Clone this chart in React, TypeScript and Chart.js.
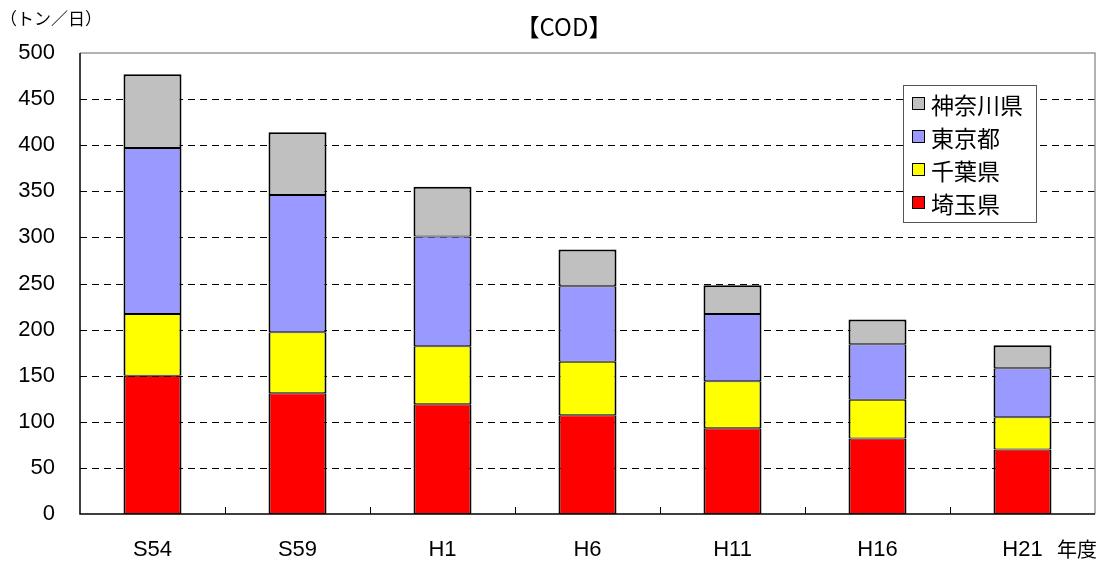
import React, { useEffect, useRef } from "react";
import { Chart, registerables } from "chart.js";

Chart.register(...registerables);

const categories = ["S54", "S59", "H1", "H6", "H11", "H16", "H21"];
const saitama = [150, 131, 119, 107, 93, 82, 70];
const chiba = [67, 66, 63, 58, 51, 42, 35];
const tokyo = [180, 149, 119, 82, 73, 60, 53];
const kanagawa = [80, 68, 54, 40, 31, 27, 25];
const yTicks = [0, 50, 100, 150, 200, 250, 300, 350, 400, 450, 500];

const FONT = "'Liberation Sans', 'Noto Sans CJK JP', sans-serif";
const JFONT = "'Noto Sans CJK JP', 'Liberation Sans', sans-serif";

const overlay = {
  id: "overlay",
  beforeDatasetsDraw(chart: any) {
    const { ctx, chartArea: a, scales } = chart;
    const y = scales.y;
    const x = scales.x;
    ctx.save();
    ctx.strokeStyle = "#000";
    ctx.lineWidth = 1;
    ctx.setLineDash([7, 5]);
    for (const v of yTicks) {
      if (v === 0 || v === 500) continue;
      const py = Math.round(y.getPixelForValue(v)) + 0.5;
      ctx.beginPath();
      ctx.moveTo(a.left, py);
      ctx.lineTo(a.right, py);
      ctx.stroke();
    }
    ctx.setLineDash([]);
    ctx.strokeStyle = "#999";
    ctx.lineWidth = 1.5;
    ctx.beginPath();
    ctx.moveTo(a.left, a.top);
    ctx.lineTo(a.right, a.top);
    ctx.lineTo(a.right, a.bottom);
    ctx.stroke();
    ctx.strokeStyle = "#000";
    ctx.lineWidth = 1;
    for (let i = 1; i < categories.length; i++) {
      const px = Math.round((x.getPixelForValue(i - 1) + x.getPixelForValue(i)) / 2) + 0.5;
      ctx.beginPath();
      ctx.moveTo(px, a.bottom);
      ctx.lineTo(px, a.bottom - 7);
      ctx.stroke();
    }
    ctx.restore();
  },
  afterDraw(chart: any) {
    const { ctx, chartArea: a } = chart;
    ctx.save();
    ctx.strokeStyle = "#000";
    ctx.lineWidth = 1.5;
    ctx.beginPath();
    ctx.moveTo(a.left, a.top);
    ctx.lineTo(a.left, a.bottom);
    ctx.lineTo(a.right, a.bottom);
    ctx.stroke();
    ctx.fillStyle = "#000";
    ctx.textAlign = "center";
    ctx.textBaseline = "middle";
    ctx.font = `24px ${JFONT}`;
    ctx.fillText("【COD】", 564, 27);
    ctx.textAlign = "left";
    ctx.font = `17px ${JFONT}`;
    ctx.fillText("（トン／日）", 0, 19);
    ctx.font = `20px ${JFONT}`;
    ctx.fillText("年度", 1057, 549);
    const lx = 903, ly = 85, lw = 133, lh = 137;
    ctx.fillStyle = "#fff";
    ctx.fillRect(lx, ly, lw, lh);
    ctx.strokeStyle = "#555";
    ctx.lineWidth = 1;
    ctx.strokeRect(lx + 0.5, ly + 0.5, lw, lh);
    const ds = chart.data.datasets;
    const order = [3, 2, 1, 0];
    ctx.font = `23px ${JFONT}`;
    order.forEach((di, i) => {
      const cy = 104 + i * 33;
      ctx.fillStyle = ds[di].backgroundColor;
      ctx.fillRect(912, cy - 7, 13, 13);
      ctx.strokeStyle = "#000";
      ctx.lineWidth = 1;
      ctx.strokeRect(912.5, cy - 6.5, 12, 12);
      ctx.fillStyle = "#000";
      ctx.textAlign = "left";
      ctx.textBaseline = "middle";
      ctx.fillText(ds[di].label, 931, cy + 1);
    });
    ctx.restore();
  },
};

export default function App() {
  const ref = useRef<HTMLCanvasElement>(null);
  useEffect(() => {
    document.body.style.margin = "0";
    const mk = (label: string, data: number[], color: string, top: number) => ({
      label,
      data,
      backgroundColor: color,
      borderColor: "#000",
      borderWidth: { left: 2, right: 2, top, bottom: 1 },
      borderSkipped: false,
      barPercentage: 0.4,
      categoryPercentage: 1,
    });
    const chart = new Chart(ref.current!, {
      type: "bar",
      data: {
        labels: categories,
        datasets: [
          mk("埼玉県", saitama, "#FF0000", 1),
          mk("千葉県", chiba, "#FFFF00", 1),
          mk("東京都", tokyo, "#9999FF", 1),
          mk("神奈川県", kanagawa, "#C0C0C0", 2),
        ],
      },
      options: {
        responsive: false,
        animation: false,
        devicePixelRatio: 1,
        layout: { padding: { top: 53, right: 10, left: 0, bottom: 0 } },
        plugins: { legend: { display: false }, title: { display: false }, tooltip: { enabled: false } },
        scales: {
          x: {
            stacked: true,
            grid: { display: false },
            border: { display: false },
            ticks: { color: "#000", font: { family: FONT, size: 22 }, padding: 15, maxRotation: 0 },
            afterFit: (s: any) => { s.height = 51; },
          },
          y: {
            stacked: true,
            min: 0,
            max: 500,
            afterBuildTicks: (s: any) => { s.ticks = yTicks.map((v) => ({ value: v })); },
            grid: { display: false },
            border: { display: false },
            ticks: { color: "#000", font: { family: FONT, size: 22 }, padding: 17 },
            afterFit: (s: any) => { s.width = 80; },
          },
        },
      },
      plugins: [overlay],
    });
    return () => chart.destroy();
  }, []);
  return (
    <div style={{ width: 1105, height: 565 }}>
      <canvas ref={ref} width={1105} height={565} style={{ display: "block" }} />
    </div>
  );
}
